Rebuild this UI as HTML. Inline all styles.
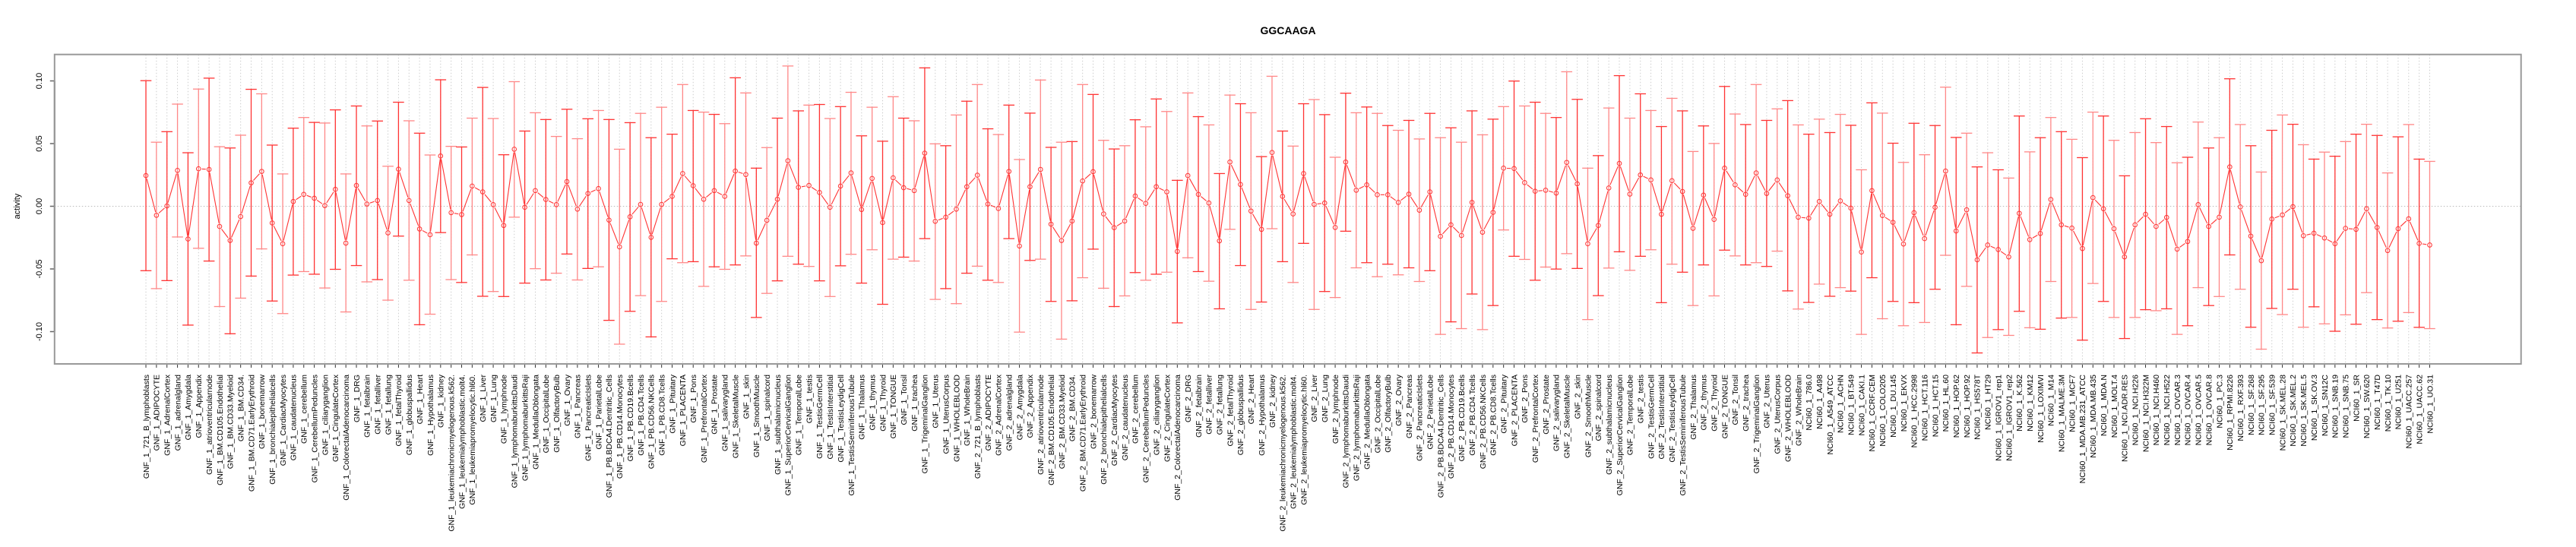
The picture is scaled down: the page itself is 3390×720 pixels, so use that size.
<!DOCTYPE html>
<html><head><meta charset="utf-8"><title>GGCAAGA</title>
<style>html,body{margin:0;padding:0;background:#fff}svg{display:block}text{font-family:"Liberation Sans",Arial,sans-serif}</style>
</head><body>
<svg id="chart" width="3390" height="720" viewBox="0 0 3390 720" xmlns="http://www.w3.org/2000/svg">
<text x="1695" y="45" text-anchor="middle" font-size="14" font-weight="bold">GGCAAGA</text>
<text transform="translate(26,271.5) rotate(-90)" text-anchor="middle" font-size="11">activity</text>
<g id="grid"></g>
<g id="yaxis"></g>
<g id="xaxis"></g>
<g id="series"></g>
<rect x="71.8" y="71.7" width="3245.9" height="407.3" fill="none" stroke="#999" stroke-width="2"/>
</svg>
<script>
const tissues = ["721_B_lymphoblasts","ADIPOCYTE","AdrenalCortex","adrenalgland","Amygdala","Appendix","atrioventricularnode","BM.CD105.Endothelial","BM.CD33.Myeloid","BM.CD34.","BM.CD71.EarlyErythroid","bonemarrow","bronchialepithelialcells","CardiacMyocytes","caudatenucleus","cerebellum","CerebellumPeduncles","ciliaryganglion","CingulateCortex","ColorectalAdenocarcinoma","DRG","fetalbrain","fetalliver","fetallung","fetalThyroid","globuspallidus","Heart","Hypothalamus","kidney","leukemiachronicmyelogenous.k562.","leukemialymphoblastic.molt4.","leukemiapromyelocytic.hl60.","Liver","Lung","lymphnode","lymphomaburkittsDaudi","lymphomaburkittsRaji","MedullaOblongata","OccipitalLobe","OlfactoryBulb","Ovary","Pancreas","PancreaticIslets","ParietalLobe","PB.BDCA4.Dentritic_Cells","PB.CD14.Monocytes","PB.CD19.Bcells","PB.CD4.Tcells","PB.CD56.NKCells","PB.CD8.Tcells","Pituitary","PLACENTA","Pons","PrefrontalCortex","Prostate","salivarygland","SkeletalMuscle","skin","SmoothMuscle","spinalcord","subthalamicnucleus","SuperiorCervicalGanglion","TemporalLobe","testis","TestisGermCell","TestisInterstitial","TestisLeydigCell","TestisSeminiferousTubule","Thalamus","thymus","Thyroid","TONGUE","Tonsil","trachea","TrigeminalGanglion","Uterus","UterusCorpus","WHOLEBLOOD","WholeBrain"];
const cellLines = ["786.0","A498","A549_ATCC","ACHN","BT.549","CAKI.1","CCRF.CEM","COLO205","DU.145","EKVX","HCC.2998","HCT.116","HCT.15","HL.60","HOP.62","HOP.92","HS578T","HT29","IGROV1_rep1","IGROV1_rep2","K.562","KM12","LOXIMVI","M14","MALME.3M","MCF7","MDA.MB.231_ATCC","MDA.MB.435","MDA.N","MOLT.4","NCI.ADR.RES","NCI.H226","NCI.H322M","NCI.H460","NCI.H522","OVCAR.3","OVCAR.4","OVCAR.5","OVCAR.8","PC.3","RPMI.8226","RXF.393","SF.268","SF.295","SF.539","SK.MEL.28","SK.MEL.2","SK.MEL.5","SK.OV.3","SN12C","SNB.19","SNB.75","SR","SW.620","T47D","TK.10","U251","UACC.257","UACC.62","UO.31"];
const categories = tissues.map(t=>"GNF_1_"+t).concat(tissues.map(t=>"GNF_2_"+t), cellLines.map(c=>"NCI60_1_"+c));
const means = [0.0245,-0.0072,0.0003,0.0286,-0.0261,0.0299,0.0294,-0.0161,-0.0273,-0.0082,0.0187,0.0278,-0.0133,-0.0299,0.0038,0.0095,0.0064,0.0005,0.0135,-0.0294,0.0166,0.0018,
0.0046,-0.0212,0.0296,0.0046,-0.0181,-0.0227,0.0401,-0.0051,-0.0066,0.0161,0.0115,0.0013,-0.0153,0.0455,-0.0008,0.0125,0.0054,0.0013,0.0197,-0.0023,0.0102,0.0141,-0.011,
-0.0324,-0.0084,0.0015,-0.0248,0.0015,0.0079,0.0261,0.0164,0.0056,0.0125,0.0079,0.0281,0.0253,-0.0294,-0.0112,0.0056,0.0363,0.0151,0.0166,0.011,-0.0008,0.0161,0.0266,
-0.0026,0.0222,-0.013,0.0227,0.0148,0.0125,0.0424,-0.012,-0.0087,-0.0023,0.0156,0.0248,0.0018,-0.0018,0.0278,-0.0317,0.0156,0.0294,-0.0143,-0.0273,-0.0118,0.0202,0.0276,
-0.0061,-0.0171,-0.0118,0.0082,0.0023,0.0156,0.0115,-0.036,0.0245,0.0095,0.0026,-0.0276,0.0353,0.0174,-0.0038,-0.0184,0.0429,0.0079,-0.0061,0.0261,0.0015,0.0026,-0.0169,
0.0353,0.0128,0.0171,0.0092,0.0092,0.0031,0.0097,-0.0031,0.0115,-0.024,-0.0148,-0.0233,0.0031,-0.0207,-0.0049,0.0304,0.0301,0.0189,0.012,0.0128,0.0105,0.035,0.0179,-0.0299,
-0.0153,0.0146,0.0342,0.0097,0.025,0.021,-0.0064,0.0204,0.0118,-0.0176,0.0089,-0.0105,0.0304,0.0171,0.0095,0.0266,0.0102,0.021,0.0084,-0.0087,-0.0095,0.0038,-0.0064,
0.0043,-0.0015,-0.0365,0.0125,-0.0074,-0.0128,-0.0301,-0.0051,-0.0258,-0.0008,0.0281,-0.0197,-0.0028,-0.0427,-0.0309,-0.0345,-0.0404,-0.0056,-0.0266,-0.0217,0.0054,-0.0148,-0.0174,
-0.0337,0.0069,-0.002,-0.0179,-0.0404,-0.0148,-0.0064,-0.0161,-0.0089,-0.0342,-0.0281,0.0013,-0.0161,-0.0087,0.0314,-0.0005,-0.0238,-0.0434,-0.0102,-0.0069,-0.0003,-0.0235,-0.0215,-0.0253,
-0.0299,-0.0176,-0.0184,-0.002,-0.0169,-0.0353,-0.0179,-0.01,-0.0296,-0.0309];
const upper = [0.1002,0.0511,0.0595,0.0815,0.0427,0.0935,0.1022,0.0475,0.0465,0.0567,0.0933,0.0897,0.0488,0.0258,0.0623,0.0708,0.0669,0.0664,0.0769,0.0258,0.080,0.0641,
0.068,0.0319,0.083,0.0682,0.0583,0.0409,0.1009,0.0478,0.0473,0.0703,0.0948,0.070,0.0411,0.0994,0.060,0.0746,0.0692,0.0557,0.0774,0.0539,0.0698,0.0764,0.0692,
0.0455,0.0667,0.0741,0.0547,0.079,0.0575,0.0971,0.0764,0.0751,0.0733,0.0659,0.1025,0.0904,0.0304,0.0468,0.0703,0.1119,0.0761,0.0807,0.0812,0.070,0.0795,0.0909,
0.0562,0.079,0.0519,0.0874,0.0703,0.0682,0.1104,0.0498,0.0483,0.0728,0.0838,0.0971,0.0618,0.0572,0.0807,0.0373,0.0743,0.1007,0.047,0.0511,0.0516,0.0971,0.0892,
0.0526,0.0457,0.0483,0.069,0.0634,0.0856,0.0756,0.0207,0.0904,0.0715,0.0649,0.0261,0.0887,0.0818,0.0746,0.0396,0.1037,0.060,0.048,0.0818,0.0851,0.0731,0.0391,
0.0902,0.0746,0.0792,0.0741,0.0644,0.0606,0.0685,0.0537,0.0741,0.0547,0.0626,0.0511,0.0761,0.057,0.0695,0.0795,0.0999,0.080,0.083,0.0741,0.0708,0.1073,0.0853,0.0304,
0.0404,0.0784,0.1042,0.0703,0.0897,0.0764,0.0636,0.0861,0.0761,0.0437,0.0641,0.0501,0.0956,0.0736,0.0652,0.0971,0.0685,0.0777,0.0843,0.0649,0.0575,0.0695,0.0588,
0.0733,0.0646,0.0291,0.0825,0.0743,0.0503,0.035,0.0662,0.0411,0.0644,0.095,0.0549,0.0583,0.0314,0.0427,0.0291,0.0225,0.072,0.0434,0.0547,0.0708,0.0595,0.0534,
0.0388,0.0751,0.072,0.0526,0.0243,0.0588,0.0698,0.0508,0.0636,0.0347,0.0391,0.0672,0.0465,0.0547,0.1017,0.0652,0.0483,0.0273,0.0606,0.0728,0.0654,0.0491,0.0376,0.0432,
0.0399,0.0516,0.0575,0.0654,0.0565,0.0266,0.0554,0.0652,0.0376,0.0358];
const lower = [-0.0514,-0.0657,-0.0593,-0.0245,-0.0948,-0.0335,-0.0437,-0.080,-0.1017,-0.0733,-0.0557,-0.034,-0.0756,-0.0856,-0.0549,-0.0521,-0.0542,-0.0652,-0.0503,-0.0843,-0.0473,-0.0603,
-0.0585,-0.0749,-0.0238,-0.059,-0.0945,-0.0861,-0.021,-0.0585,-0.0608,-0.0388,-0.0718,-0.068,-0.072,-0.0087,-0.0613,-0.0498,-0.0588,-0.0534,-0.0381,-0.0588,-0.0496,-0.0483,-0.091,
-0.110,-0.0838,-0.0713,-0.1042,-0.0759,-0.0419,-0.045,-0.0442,-0.0639,-0.0483,-0.0503,-0.0468,-0.0396,-0.0887,-0.0695,-0.0595,-0.0399,-0.0462,-0.048,-0.0595,-0.072,-0.0475,-0.0383,
-0.0613,-0.0347,-0.0782,-0.0422,-0.0406,-0.0437,-0.0258,-0.0743,-0.0657,-0.0777,-0.0534,-0.0478,-0.059,-0.0608,-0.0258,-0.1004,-0.0432,-0.0422,-0.0759,-0.106,-0.0754,-0.057,-0.0342,
-0.0654,-0.08,-0.0715,-0.0529,-0.059,-0.0542,-0.0526,-0.093,-0.0411,-0.0521,-0.0598,-0.0818,-0.0184,-0.0473,-0.0823,-0.0764,-0.0179,-0.0442,-0.0608,-0.0296,-0.0823,-0.068,-0.0728,
-0.0199,-0.0491,-0.045,-0.0562,-0.0462,-0.0547,-0.0491,-0.060,-0.0514,-0.1022,-0.0922,-0.0976,-0.070,-0.0984,-0.0792,-0.0189,-0.0399,-0.0424,-0.059,-0.0485,-0.0501,-0.0378,-0.0496,-0.0904,
-0.0713,-0.0493,-0.0363,-0.0511,-0.0399,-0.0347,-0.0769,-0.0462,-0.0526,-0.0792,-0.0468,-0.0715,-0.035,-0.0396,-0.0468,-0.045,-0.048,-0.0358,-0.0675,-0.082,-0.0767,-0.0621,-0.0718,
-0.0649,-0.0677,-0.1022,-0.057,-0.0897,-0.0759,-0.0953,-0.0769,-0.0927,-0.0662,-0.0391,-0.0945,-0.0639,-0.117,-0.1047,-0.0984,-0.103,-0.0838,-0.0969,-0.0981,-0.060,-0.0892,-0.0887,
-0.1068,-0.0616,-0.0759,-0.0887,-0.1055,-0.0887,-0.0825,-0.0833,-0.0818,-0.1022,-0.0953,-0.0649,-0.0792,-0.072,-0.0388,-0.0662,-0.0965,-0.114,-0.0815,-0.0864,-0.0662,-0.0965,-0.0802,-0.0938,
-0.0997,-0.0866,-0.0941,-0.0689,-0.0904,-0.0971,-0.0917,-0.0848,-0.0966,-0.0976];
const yTicks = [-0.10,-0.05,0.00,0.05,0.10];
const yTickLabels = ["-0.10","-0.05","0.00","0.05","0.10"];

const NS = "http://www.w3.org/2000/svg";
const PL = 71.8, PR = 3317.7, PT = 71.7, PB = 479;
const n = categories.length;
const xMin = 1 - 0.04*(n-1), xMax = n + 0.04*(n-1);
function xPos(i){ return PL + ((i+1) - xMin) / (xMax - xMin) * (PR - PL); }
function yPos(v){ return 271.5 - v / 0.05 * 82.5; }
function mk(tag, attrs, parent){ const e = document.createElementNS(NS, tag); for (const k in attrs) e.setAttribute(k, attrs[k]); parent.appendChild(e); return e; }

const grid = document.getElementById('grid');
const yaxis = document.getElementById('yaxis');
const xaxis = document.getElementById('xaxis');
const series = document.getElementById('series');

// zero gridline
const zl = mk('line', {x1:PL, x2:PR, y1:yPos(0), y2:yPos(0), stroke:'#bbb', 'stroke-width':1, 'stroke-dasharray':'1.5,2.5'}, grid);



// y axis
const yl = mk('line', {x1:PL, x2:PL, y1:yPos(yTicks[0]), y2:yPos(yTicks[yTicks.length-1]), stroke:'#666', 'stroke-width':2}, yaxis);


yTicks.forEach((t, k) => {
  const y = yPos(t);
  const tk = mk('line', {x1:PL-6, x2:PL, y1:y, y2:y, stroke:'#666', 'stroke-width':1.5}, yaxis);
  
  
  const tx = mk('text', {transform:'translate(55,'+y+') rotate(-90)', 'text-anchor':'middle', 'font-size':11}, yaxis);
  tx.textContent = yTickLabels[k];
  
  
});

// x axis line
const xl = mk('line', {x1:xPos(0), x2:xPos(n-1), y1:PB, y2:PB, stroke:'#333', 'stroke-width':1.5}, xaxis);



const R = 2.8;
const pts = [];
for (let i = 0; i < n; i++) {
  const x = xPos(i);
  const vg = mk('line', {x1:x, x2:x, y1:PT, y2:PB, stroke:'#ccc', 'stroke-width':1, 'stroke-dasharray':'1.5,2.5'}, grid);
  
  
  const tk = mk('line', {x1:x, x2:x, y1:PB, y2:PB+5, stroke:'#333', 'stroke-width':1}, xaxis);
  
  
  const lb = mk('text', {transform:'translate('+(x+3.8)+','+(PB+14)+') rotate(-90)', 'text-anchor':'end', 'font-size':10.5}, xaxis);
  lb.textContent = categories[i];
  
  

  const yu = yPos(upper[i]), yl2 = yPos(lower[i]), ym = yPos(means[i]);
  const col = (i % 2 === 0) ? '#f33' : '#f88';
  const eb = mk('line', {x1:x, x2:x, y1:yu, y2:yl2, stroke:col, 'stroke-width':1.3}, series);
  
  
  const c1 = mk('line', {x1:x-7.3, x2:x+7.3, y1:yu, y2:yu, stroke:col, 'stroke-width':1.3}, series);
  
  
  const c2 = mk('line', {x1:x-7.3, x2:x+7.3, y1:yl2, y2:yl2, stroke:col, 'stroke-width':1.3}, series);
  
  
  pts.push([x, ym]);
}
for (let i = 0; i < n-1; i++) {
  const [x1,y1] = pts[i], [x2,y2] = pts[i+1];
  const dx = x2-x1, dy = y2-y1, L = Math.hypot(dx,dy);
  const g = R + 1.5;
  if (L <= 2*g) continue;
  const ux = dx/L, uy = dy/L;
  const seg = mk('line', {x1:x1+ux*g, y1:y1+uy*g, x2:x2-ux*g, y2:y2-uy*g, stroke:'#f33', 'stroke-width':1.1}, series);
  
  
}
pts.forEach(([x,y]) => {
  const c = mk('circle', {cx:x, cy:y, r:R, fill:'none', stroke:'#f33', 'stroke-width':1}, series);
  
  
});
</script>
</body></html>
